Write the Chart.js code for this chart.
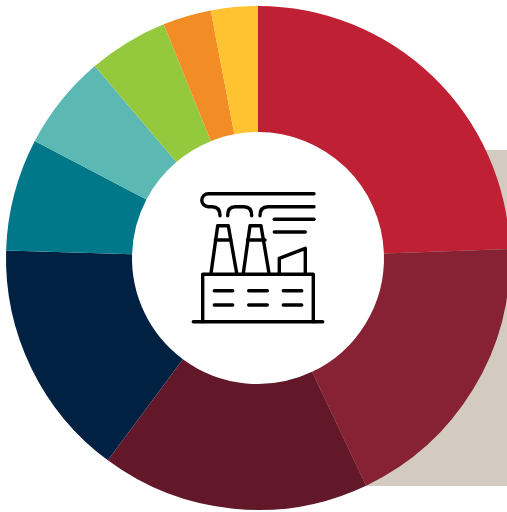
<!DOCTYPE html>
<html>
<head>
<meta charset="utf-8">
<title>Doughnut</title>
<script src="https://cdn.jsdelivr.net/npm/chart.js@4/dist/chart.umd.min.js"></script>
<style>
  html, body { margin: 0; padding: 0; background: #fff; overflow: hidden; width: 507px; height: 512px; }
  canvas { display: block; }
</style>
</head>
<body>
<canvas id="myDoughnut" width="516" height="516" style="width:516px;height:516px"></canvas>
<script>
const categories = ['Segment 1', 'Segment 2', 'Segment 3', 'Segment 4', 'Segment 5', 'Segment 6', 'Segment 7', 'Segment 8', 'Segment 9'];
const shares = [24.4, 18.5, 17.2, 15.3, 7.2, 6.1, 5.1, 3.1, 3.0];
const sliceColors = ['#c02033', '#862234', '#63182a', '#002142', '#00788a', '#5cb8b2', '#95c93d', '#f28c24', '#ffc231'];

// beige panel behind the right side of the ring, clipped so the hole stays white
const backPanel = {
    id: 'backPanel',
    beforeDraw(chart) {
        const c = chart.ctx;
        const arc = chart.getDatasetMeta(0).data[0];
        c.save();
        c.beginPath();
        c.rect(0, 0, chart.width, chart.height);
        c.moveTo(arc.x + arc.innerRadius + 1, arc.y);
        c.arc(arc.x, arc.y, arc.innerRadius + 1, 0, Math.PI * 2);
        c.clip('evenodd');
        c.fillStyle = '#d3cbc0';
        c.fillRect(258, 150, 258, 336);
        c.restore();
    }
};

// factory line icon in the hole
const factoryIcon = {
    id: 'factoryIcon',
    afterDraw(chart) {
        const c = chart.ctx;
        const line = (pts) => {
            c.beginPath();
            c.moveTo(pts[0][0], pts[0][1]);
            pts.slice(1).forEach(p => c.lineTo(p[0], p[1]));
            c.stroke();
        };
        c.save();
        c.strokeStyle = '#000';
        c.lineWidth = 3.4;
        c.lineCap = 'round';
        c.lineJoin = 'round';

        // smoke
        c.beginPath();
        c.moveTo(314, 193.7);
        c.lineTo(208.3, 193.7);
        c.arc(208.3, 200.2, 6.5, -Math.PI / 2, Math.PI / 2, true);
        c.lineTo(212, 206.7);
        c.quadraticCurveTo(220, 206.7, 220, 215.7);
        c.stroke();
        c.beginPath();
        c.moveTo(227.7, 215.7);
        c.quadraticCurveTo(227.7, 206.7, 235, 206.7);
        c.lineTo(244, 206.7);
        c.quadraticCurveTo(251.7, 206.7, 251.7, 215.7);
        c.stroke();
        c.beginPath();
        c.moveTo(260, 215.7);
        c.quadraticCurveTo(260, 206.7, 268, 206.7);
        c.lineTo(314, 206.7);
        c.stroke();
        line([[274.3, 219.3], [314, 219.3]]);
        line([[274.3, 232], [305.3, 232]]);

        // chimneys
        line([[211, 273.3], [217.7, 225.7], [228.3, 225.7], [236.7, 273.3]]);
        line([[215.3, 240], [230.7, 240]]);
        line([[243.3, 273.3], [250, 225.7], [261, 225.7], [269, 273.3]]);
        line([[247.5, 240], [265, 240]]);

        // small shed
        line([[279.3, 273.3], [279.3, 258.3], [305.3, 248.3], [305.3, 273.3]]);

        // building and ground
        line([[202.7, 321.7], [202.7, 274.3], [313.3, 274.3], [313.3, 321.7]]);
        line([[193.3, 321.7], [322.7, 321.7]]);

        // window dashes
        [290.7, 305].forEach(y => {
            line([[214.3, y], [232.7, y]]);
            line([[248.7, y], [267.3, y]]);
            line([[283.3, y], [301.7, y]]);
        });
        c.restore();
    }
};

document.addEventListener('DOMContentLoaded', function () {
    const ctx = document.getElementById('myDoughnut').getContext('2d');
    new Chart(ctx, {
        type: 'doughnut',
        data: {
            labels: categories,
            datasets: [{
                data: shares,
                backgroundColor: sliceColors,
                borderWidth: 0
            }]
        },
        options: {
            responsive: false,
            animation: false,
            cutout: '50%',
            layout: { padding: 6 },
            plugins: {
                legend: { display: false },
                title: { display: false },
                tooltip: { enabled: false }
            }
        },
        plugins: [backPanel, factoryIcon]
    });
});
</script>
</body>
</html>
